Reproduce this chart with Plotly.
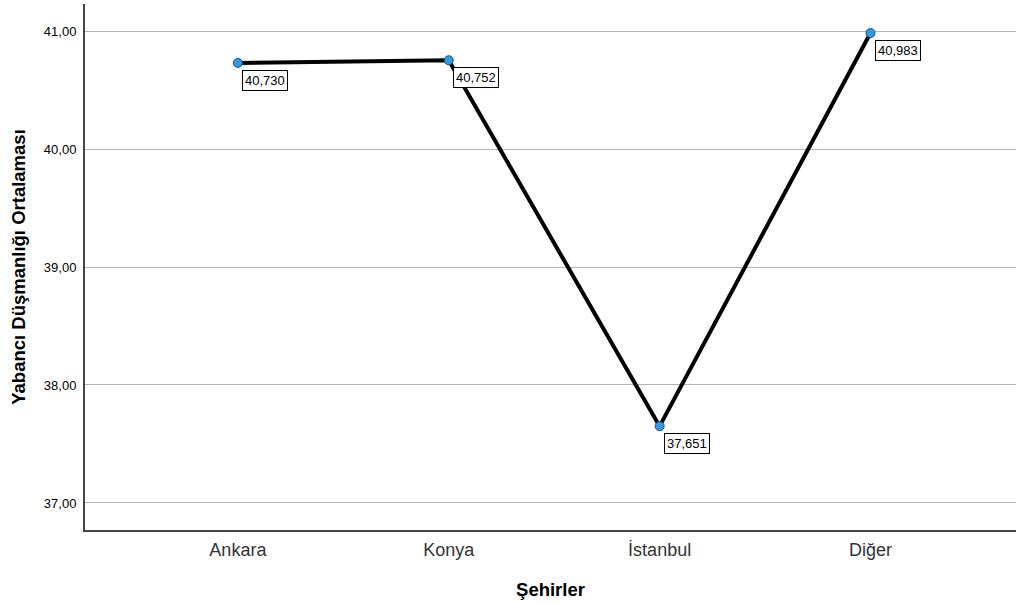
import plotly.graph_objects as go

categories = ["Ankara", "Konya", "İstanbul", "Diğer"]
means = [40.730, 40.752, 37.651, 40.983]
labels = ["40,730", "40,752", "37,651", "40,983"]
yticks = [37, 38, 39, 40, 41]
yticklabels = ["37,00", "38,00", "39,00", "40,00", "41,00"]

xpos = list(range(len(categories)))

fig = go.Figure()
fig.add_trace(go.Scatter(
    x=xpos, y=means, mode="lines+markers",
    line=dict(color="black", width=4),
    marker=dict(size=9, color="#2f9ae6", line=dict(color="#1a4f7a", width=1)),
    hoverinfo="skip", showlegend=False,
))
for x, y, t in zip(xpos, means, labels):
    fig.add_annotation(
        x=x, y=y, text=t, showarrow=False,
        xanchor="left", yanchor="top", xshift=4, yshift=-7,
        font=dict(family="Arial, Liberation Sans", size=13, color="black"),
        bordercolor="black", borderwidth=1, borderpad=2, bgcolor="white",
    )

fig.update_layout(
    width=1016, height=603,
    margin=dict(l=85, r=0, t=4, b=73),
    paper_bgcolor="white", plot_bgcolor="white",
    font=dict(family="Arial, Liberation Sans"),
    xaxis=dict(
        range=[-0.725, 3.69], tickvals=xpos, ticktext=categories,
        showgrid=False, zeroline=False, showline=True, linecolor="#444",
        linewidth=2, ticks="outside", ticklen=2, tickcolor="rgba(0,0,0,0)",
        tickfont=dict(size=18, color="#333"),
        title=dict(text="<b>Şehirler</b>", font=dict(size=18.5, color="black"), standoff=24),
    ),
    yaxis=dict(
        range=[36.771, 41.229], tickvals=yticks, ticktext=yticklabels,
        showgrid=True, gridcolor="#b4b4b4", gridwidth=1, zeroline=False,
        showline=True, linecolor="#444", linewidth=2, ticks="outside",
        ticklen=4, tickcolor="rgba(0,0,0,0)",
        tickfont=dict(size=13, color="black"),
        title=dict(text="<b>Yabancı Düşmanlığı Ortalaması</b>", font=dict(size=18.5, color="black"), standoff=13),
    ),
)

fig.write_html(
    "out.html",
    config={"displayModeBar": False},
    post_script="document.body.style.margin='0px';document.body.style.overflow='hidden';",
)
